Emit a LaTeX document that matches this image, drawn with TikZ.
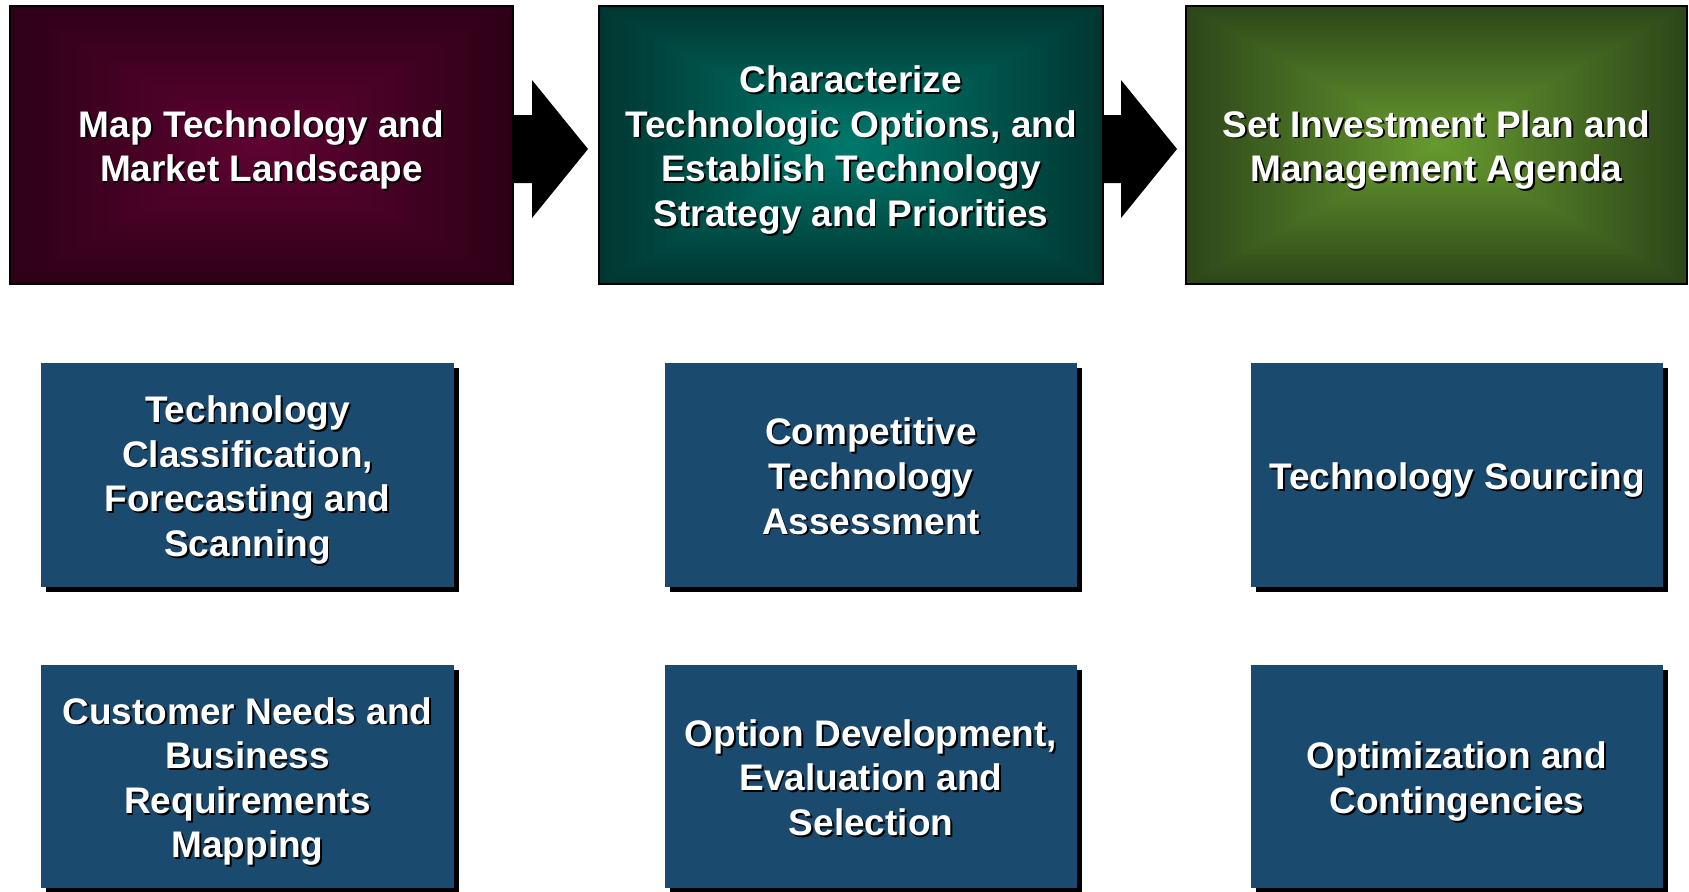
\documentclass[tikz,border=0pt]{standalone}
\usepackage{fontspec}
\setmainfont{Liberation Sans}
\usetikzlibrary{calc,fit,shadows}
\definecolor{magin}{HTML}{5E0332}
\definecolor{magout}{HTML}{2E0016}
\definecolor{tealin}{HTML}{00786B}
\definecolor{tealout}{HTML}{003632}
\definecolor{grnin}{HTML}{66992F}
\definecolor{grnout}{HTML}{2D4719}
\definecolor{bluebox}{HTML}{1B4A6F}
\newcommand\shadowtext[1]{%
  \leavevmode\rlap{\hspace{0.9pt}\raisebox{-0.9pt}{\color{black}\begin{tabular}{@{}c@{}}#1\end{tabular}}}%
  {\color{white}\begin{tabular}{@{}c@{}}#1\end{tabular}}}
\newcommand\gradbox[6]{%
  \foreach \i in {0,...,40}{%
    \pgfmathsetmacro\s{1-\i/41}%
    \pgfmathsetmacro\p{100*\i/40}%
    \fill[#5!\p!#6] ({(#1+#3)/2-\s*(#3-#1)/2},{(#2+#4)/2-\s*(#4-#2)/2}) rectangle ({(#1+#3)/2+\s*(#3-#1)/2},{(#2+#4)/2+\s*(#4-#2)/2});
  }}
\tikzset{
  txt/.style={font=\fontsize{18.5}{22.3}\selectfont\bfseries, inner sep=0pt, yshift=-3.2pt},
  topbox/.style={draw=black, line width=1pt, inner sep=0pt},
  lowbox/.style={fill=bluebox, inner sep=0pt, general shadow={fill=black, shadow xshift=2.5pt, shadow yshift=-2.5pt}},
  blockarrow/.style={fill=black}
}
\begin{document}
\begin{tikzpicture}[x=0.5pt,y=-0.5pt]
\fill[white] (0,0) rectangle (1689,891);
\useasboundingbox (0,0) rectangle (1689,891);
% top gradients
\gradbox{10}{6}{513}{284}{magin}{magout}
\gradbox{599}{6}{1103}{284}{tealin}{tealout}
\gradbox{1186}{6}{1687}{284}{grnin}{grnout}
\node[topbox, fit={(10,6)(513,284)}] (b1) {};
\node[topbox, fit={(599,6)(1103,284)}] (b2) {};
\node[topbox, fit={(1186,6)(1687,284)}] (b3) {};
\node[txt] (t1) at (b1.center) {\shadowtext{Map Technology and\\Market Landscape}};
\node[txt] (t2) at (b2.center) {\shadowtext{Characterize\\Technologic Options, and\\Establish Technology\\Strategy and Priorities}};
\node[txt] (t3) at (b3.center) {\shadowtext{Set Investment Plan and\\Management Agenda}};
% block arrows
\fill[blockarrow] ($(b1.east)+(-1,-30)$) -- ++(19,0) -- ++(0,-35) -- ++(56,69) -- ++(-56,69) -- ++(0,-35) -- ++(-19,0) -- cycle;
\fill[blockarrow] ($(b2.east)+(-1,-30)$) -- ++(18,0) -- ++(0,-35) -- ++(56,69) -- ++(-56,69) -- ++(0,-35) -- ++(-18,0) -- cycle;
% lower boxes
\node[lowbox, fit={(41,363)(454,587)}] (c1) {};
\node[lowbox, fit={(665,363)(1077,587)}] (c2) {};
\node[lowbox, fit={(1251,363)(1663,587)}] (c3) {};
\node[lowbox, fit={(41,665)(454,888)}] (d1) {};
\node[lowbox, fit={(665,665)(1077,888)}] (d2) {};
\node[lowbox, fit={(1251,665)(1663,888)}] (d3) {};
\node[txt] (u1) at (c1.center) {\shadowtext{Technology\\Classification,\\Forecasting and\\Scanning}};
\node[txt] (u2) at (c2.center) {\shadowtext{Competitive\\Technology\\Assessment}};
\node[txt] (u3) at (c3.center) {\shadowtext{Technology Sourcing}};
\node[txt] (v1) at (d1.center) {\shadowtext{Customer Needs and\\Business\\Requirements\\Mapping}};
\node[txt] (v2) at (d2.center) {\shadowtext{Option Development,\\Evaluation and\\Selection}};
\node[txt] (v3) at (d3.center) {\shadowtext{Optimization and\\Contingencies}};
\end{tikzpicture}
\end{document}
